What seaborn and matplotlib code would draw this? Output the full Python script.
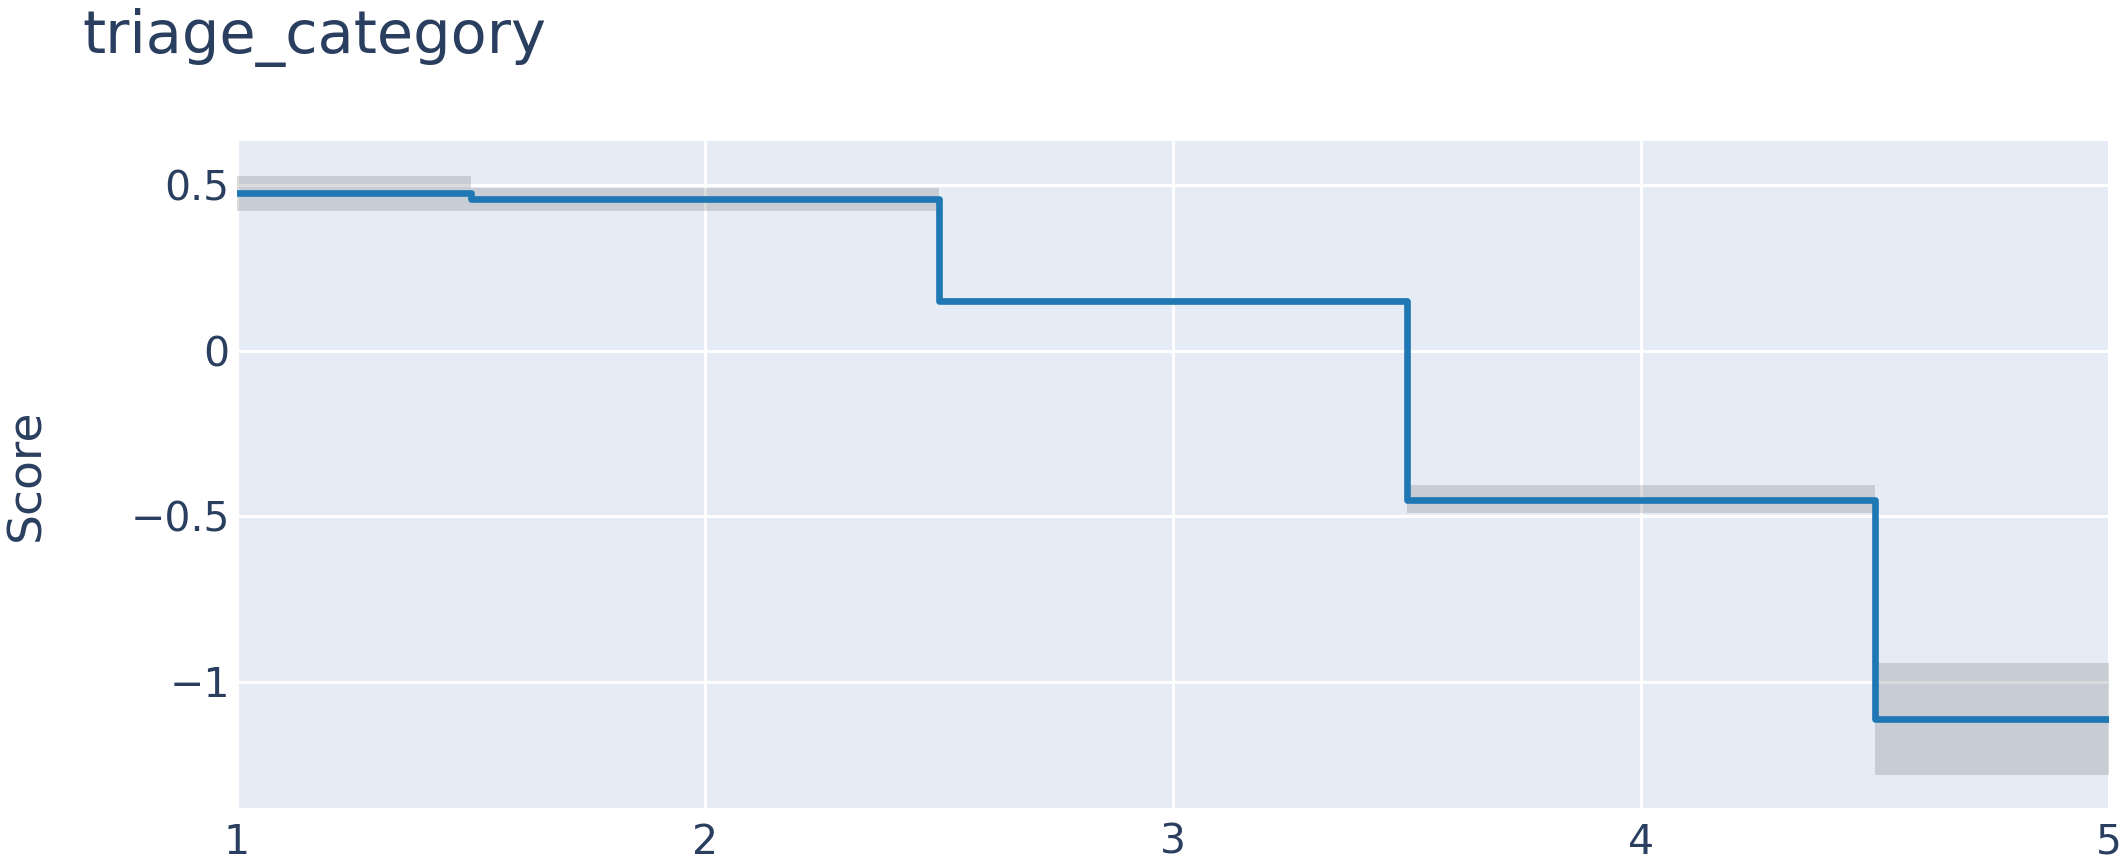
import matplotlib
matplotlib.use("Agg")
import matplotlib.pyplot as plt
import seaborn as sns
import pandas as pd

# ---- data ----
categories = [1, 2, 3, 4, 5]
score = [0.475, 0.458, 0.150, -0.450, -1.114]
lower = [0.422, 0.422, 0.140, -0.492, -1.283]
upper = [0.528, 0.491, 0.160, -0.406, -0.945]
xtick_vals = [1, 2, 3, 4, 5]
xtick_labels = ["1", "2", "3", "4", "5"]
ytick_vals = [-1, -0.5, 0, 0.5]
ytick_labels = ["\u22121", "\u22120.5", "0", "0.5"]
title_text = "triage_category"
ylabel_text = "Score"

TEXT = "#2a3f5f"
BG = "#E5ECF6"

sns.set_theme(style="darkgrid")
plt.rcParams["font.family"] = ["DejaVu Sans"]

df = pd.DataFrame({"triage_category": categories, "Score": score})

fig = plt.figure(figsize=(21.28, 8.63), dpi=100)
fig.patch.set_facecolor("white")
ax = fig.add_axes([236.7 / 2128, 1 - 807.7 / 863, (2109 - 236.7) / 2128, (807.7 - 141) / 863])
ax.set_facecolor(BG)

ax.fill_between(categories, lower, upper, step="mid", color="#808080",
                alpha=0.28, linewidth=0, zorder=2)
sns.lineplot(data=df, x="triage_category", y="Score", ax=ax, color="#1f77b4",
             linewidth=4.8, drawstyle="steps-mid", errorbar=None, zorder=3)

ax.set_xlim(1, 5)
ax.set_ylim(-1.381, 0.633)

ax.set_xticks(xtick_vals)
ax.set_xticklabels(xtick_labels)
ax.set_yticks(ytick_vals)
ax.set_yticklabels(ytick_labels)

ax.grid(True, color="white", linewidth=2.2, zorder=0)
ax.set_axisbelow(True)
for s in ax.spines.values():
    s.set_visible(False)

ax.tick_params(axis="both", length=0, labelsize=29.5, labelcolor=TEXT)
ax.tick_params(axis="x", pad=11)
ax.tick_params(axis="y", pad=5)

ax.set_xlabel("")
ax.set_ylabel(ylabel_text, fontsize=34, color=TEXT)
ax.yaxis.label.set_va("center")
ax.yaxis.set_label_coords((26.5 - 236.7) / (2109 - 236.7), 0.5)

fig.text(82 / 2128, 1 - 53 / 863, title_text, fontsize=42.5, color=TEXT,
         ha="left", va="baseline")

fig.savefig("out.png", dpi=100, facecolor="white")
